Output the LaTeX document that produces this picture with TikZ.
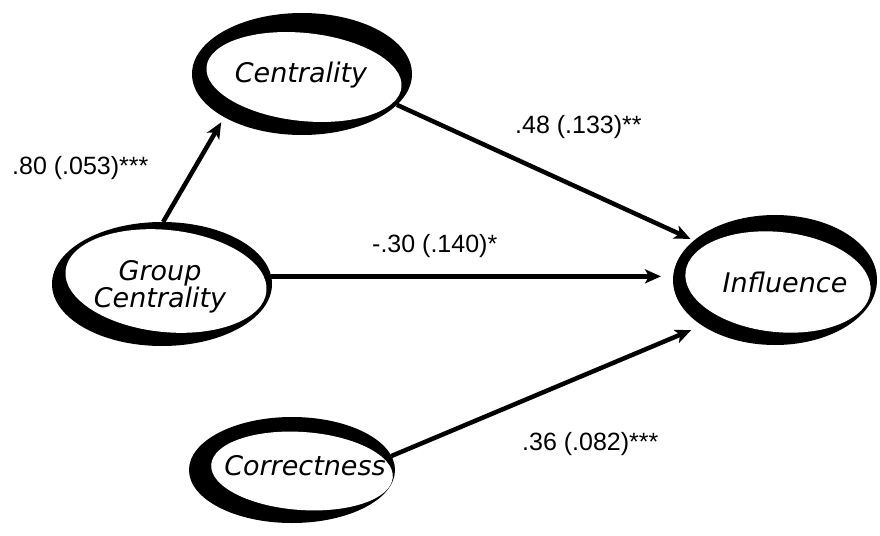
\documentclass[tikz,border=0pt]{standalone}
\usepackage{fontspec}
\setmainfont{Liberation Sans}
\newfontfamily\ellfont{DejaVu Sans}
\usetikzlibrary{arrows.meta,shapes.geometric,backgrounds}
\begin{document}
\begin{tikzpicture}[x=1pt,y=-1pt,
  ringout/.style={ellipse, fill=black, inner sep=0pt, outer sep=0pt},
  ringin/.style={ellipse, fill=white, inner sep=0pt, outer sep=0pt},
  vartext/.style={font=\ellfont\itshape\fontsize{27}{27}\selectfont, inner sep=0pt, anchor=base},
  coef/.style={font=\fontsize{25}{25}\selectfont, inner sep=0pt, anchor=base west},
  link/.style={line width=4.5pt, -{Stealth[length=16pt,width=14pt,inset=4pt]}}]
\useasboundingbox (0,0) rectangle (880,535);

% Centrality
\node[ringout, minimum width=220pt, minimum height=122pt] (cen) at (302,74) {};
\node[ringin, minimum width=196pt, minimum height=88pt, rotate=-6] (cenin) at (304,77) {};
\node[vartext] (centxt) at (301,82) {Centrality};

% Group Centrality
\node[ringout, minimum width=220pt, minimum height=124pt] (gc) at (162,284) {};
\node[ringin, minimum width=202pt, minimum height=102pt, rotate=-6] (gcin) at (166,281) {};
\node[vartext] (gctxta) at (160,280) {Group};
\node[vartext] (gctxtb) at (160,307) {Centrality};

% Influence
\node[ringout, minimum width=204pt, minimum height=130pt] (inf) at (775,280) {};
\node[ringin, minimum width=186pt, minimum height=100pt, rotate=-6] (infin) at (778,282) {};
\node[vartext] (inftxt) at (785,292) {Influence};

% Correctness
\node[ringout, minimum width=206pt, minimum height=106pt] (cor) at (292,470) {};
\node[ringin, minimum width=182pt, minimum height=78pt, rotate=-4] (corin) at (302,471) {};
\node[vartext] (cortxt) at (305,475) {Correctness};

% paths between the constructs
\begin{scope}[on background layer]
  \draw[link, shorten >=6pt] (gc.89) -- (cen.-151);
  \draw[link, shorten >=4pt] (cen.-18) -- (inf.154);
  \draw[link, shorten >=12pt] (gc.4) -- (gc.4 -| inf.west);
  \draw[link, shorten >=12pt] (cor.8) -- (inf.212);
\end{scope}

% path coefficients
\node[coef] (c1) at (12,174) {.80 (.053)***};
\node[coef] (c2) at (515,133) {.48 (.133)**};
\node[coef] (c3) at (372,252) {-.30 (.140)*};
\node[coef] (c4) at (522,450) {.36 (.082)***};
\end{tikzpicture}
\end{document}
